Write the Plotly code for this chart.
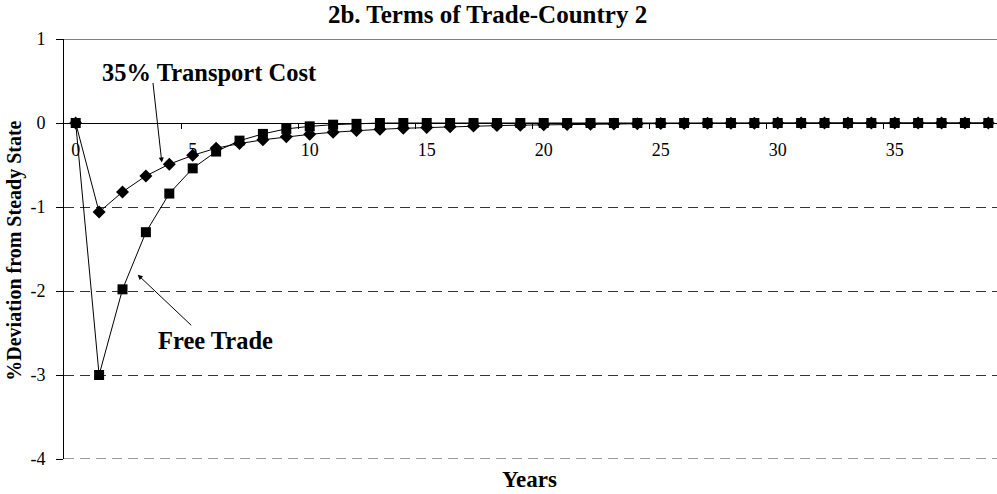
import plotly.graph_objects as go

years = list(range(40))
free_trade = [0, -3.0, -1.98, -1.30, -0.84, -0.54, -0.34, -0.21, -0.13, -0.07,
              -0.04, -0.02, -0.01, 0, 0, 0, 0, 0, 0, 0,
              0, 0, 0, 0, 0, 0, 0, 0, 0, 0,
              0, 0, 0, 0, 0, 0, 0, 0, 0, 0]
transport_cost = [0, -1.06, -0.82, -0.63, -0.49, -0.385, -0.30, -0.245, -0.20, -0.165,
                  -0.135, -0.11, -0.09, -0.075, -0.063, -0.053, -0.045, -0.037, -0.031, -0.026,
                  -0.021, -0.017, -0.014, -0.011, -0.009, -0.007, -0.005, -0.004, -0.003, -0.002,
                  -0.001, 0, 0, 0, 0, 0, 0, 0, 0, 0]
x_tick_vals = [0, 5, 10, 15, 20, 25, 30, 35]
x_tick_text = ["0", "5", "10", "15", "20", "25", "30", "35"]
x_minor_ticks = [4.5, 9.5, 14.5, 19.5, 24.5, 29.5, 34.5]
y_tick_vals = [-4, -3, -2, -1, 0, 1]
y_tick_text = ["-4", "-3", "-2", "-1", "0", "1"]

FONT = "Liberation Serif, Times New Roman, serif"
GRID_DASH = "10px,6px"
GRID_COLOR = "#333333"

fig = go.Figure()
fig.add_trace(go.Scatter(
    x=years, y=transport_cost, mode="lines+markers", name="35% Transport Cost",
    line=dict(color="black", width=1),
    marker=dict(symbol="diamond", size=10, color="black"),
))
fig.add_trace(go.Scatter(
    x=years, y=free_trade, mode="lines+markers", name="Free Trade",
    line=dict(color="black", width=1),
    marker=dict(symbol="square", size=10, color="black"),
))

# top border line at y = 1 and dashed gridline at the bottom (y = -4)
fig.add_shape(type="line", xref="paper", x0=0, x1=1, yref="y", y0=y_tick_vals[-1], y1=y_tick_vals[-1],
              line=dict(color="black", width=1))
fig.add_shape(type="line", xref="paper", x0=0, x1=1, yref="y", y0=y_tick_vals[0], y1=y_tick_vals[0],
              line=dict(color=GRID_COLOR, width=1, dash=GRID_DASH))

fig.update_layout(
    width=997, height=494,
    margin=dict(l=64, r=0, t=39, b=35),
    paper_bgcolor="white", plot_bgcolor="white",
    showlegend=False,
    font=dict(family=FONT, color="black"),
    title=dict(text="<b>2b. Terms of Trade-Country 2</b>", x=0.489, xref="container",
               xanchor="center", y=1 - 14 / 494, yref="container", yanchor="middle",
               font=dict(size=25, family=FONT, color="black")),
    xaxis=dict(
        range=[-0.5, 39.37], anchor="free", position=0.8,
        showline=True, linecolor="black", linewidth=1,
        showgrid=False, zeroline=False,
        tickmode="array", tickvals=x_tick_vals, ticktext=x_tick_text,
        ticks="", ticklabelstandoff=10,
        tickfont=dict(size=18, family=FONT, color="black"),
        minor=dict(tickmode="array", tickvals=x_minor_ticks, ticks="outside",
                   ticklen=5, tickcolor="black", tickwidth=1, showgrid=False),
    ),
    yaxis=dict(
        range=[-4, 1], showline=True, linecolor="black", linewidth=1,
        tickmode="array", tickvals=y_tick_vals, ticktext=y_tick_text,
        ticks="outside", ticklen=7, tickcolor="black",
        ticklabelstandoff=7,
        tickfont=dict(size=18, family=FONT, color="black"),
        showgrid=True, gridcolor=GRID_COLOR, gridwidth=1, griddash=GRID_DASH,
        zeroline=False,
    ),
)

annotations = [
    dict(text="<b>35% Transport Cost</b>", x=5.73, y=0.60, xref="x", yref="y",
         showarrow=False, font=dict(size=24.5, family=FONT, color="black")),
    dict(text="<b>Free Trade</b>", x=5.98, y=-2.59, xref="x", yref="y",
         showarrow=False, font=dict(size=24.5, family=FONT, color="black")),
    dict(text="", x=3.68, y=-0.47, xref="x", yref="y", showarrow=True,
         ax=-9, ay=-81, arrowhead=2, arrowsize=1, arrowwidth=1, arrowcolor="black"),
    dict(text="", x=2.65, y=-1.806, xref="x", yref="y", showarrow=True,
         ax=55, ay=52, arrowhead=2, arrowsize=1, arrowwidth=1, arrowcolor="black"),
    dict(text="<b>Years</b>", x=(529 - 64) / 933, y=(459.3 - 480) / 420,
         xref="paper", yref="paper",
         showarrow=False, font=dict(size=23, family=FONT, color="black"),
         xanchor="center", yanchor="middle"),
    dict(text="<b>%Deviation from Steady State</b>", textangle=-90,
         x=(15 - 64) / 933, y=(459.3 - 251) / 420, xref="paper", yref="paper",
         showarrow=False, xanchor="center", yanchor="middle",
         font=dict(size=20, family=FONT, color="black")),
]
fig.update_layout(annotations=annotations)

fig.write_html("out.html", config={"displayModeBar": False},
               post_script="document.body.style.margin='0';document.body.style.padding='0';")
